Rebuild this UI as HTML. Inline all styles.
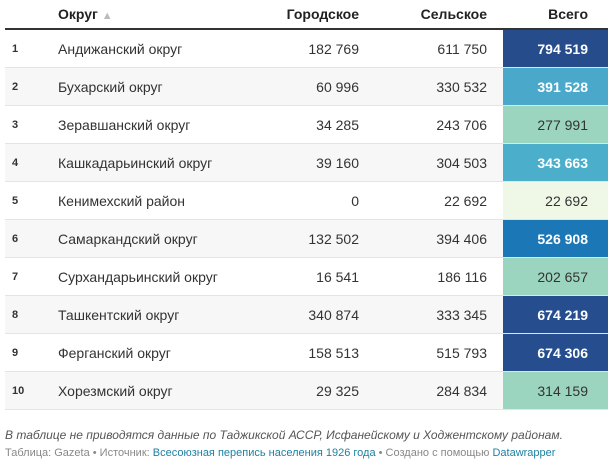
<!DOCTYPE html>
<html><head><meta charset="utf-8"><style>
body{margin:0;background:#fff;font-family:"Liberation Sans",Arial,sans-serif;color:#333;width:614px;height:464px;overflow:hidden}
table{position:absolute;left:5px;top:0;width:603px;border-collapse:collapse;font-size:14px;table-layout:fixed}
th{height:28px;font-weight:bold;text-align:right;padding:0;border-bottom:2px solid #333;color:#222;vertical-align:middle;white-space:nowrap}
td{height:37px;padding:0;border-bottom:1px solid #e4e4e4;text-align:right;white-space:nowrap;background:#fff}
tr.g td{background:#f7f7f7}
td.n,th.n{text-align:left;padding-left:7px;font-size:11px;font-weight:bold}
td.nm,th.nm{text-align:left}
td.c2,th.c2{padding-right:16px}
td.c3,th.c3{padding-right:20px}
td.w{color:#fff;font-weight:bold}
.foot{position:absolute;left:5px;font-size:12px}
</style></head><body>
<table>
<colgroup><col style="width:53px"><col style="width:157px"><col style="width:144px"><col style="width:144px"><col style="width:105px"></colgroup>
<tr><th class="n"></th><th class="nm">Округ <span style="color:#bbb;font-size:11px">▲</span></th><th class="c1">Городское</th><th class="c2">Сельское</th><th class="c3">Всего</th></tr>
<tr><td class="n">1</td><td class="nm">Андижанский округ</td><td class="c1">182 769</td><td class="c2">611 750</td><td class="c3 w" style="background:#264c8b">794 519</td></tr>
<tr class="g"><td class="n">2</td><td class="nm">Бухарский округ</td><td class="c1">60 996</td><td class="c2">330 532</td><td class="c3 w" style="background:#4aa9cb">391 528</td></tr>
<tr><td class="n">3</td><td class="nm">Зеравшанский округ</td><td class="c1">34 285</td><td class="c2">243 706</td><td class="c3" style="background:#9bd5c0">277 991</td></tr>
<tr class="g"><td class="n">4</td><td class="nm">Кашкадарьинский округ</td><td class="c1">39 160</td><td class="c2">304 503</td><td class="c3 w" style="background:#4bafcc">343 663</td></tr>
<tr><td class="n">5</td><td class="nm">Кенимехский район</td><td class="c1">0</td><td class="c2">22 692</td><td class="c3" style="background:#eff8e7">22 692</td></tr>
<tr class="g"><td class="n">6</td><td class="nm">Самаркандский округ</td><td class="c1">132 502</td><td class="c2">394 406</td><td class="c3 w" style="background:#1b77b5">526 908</td></tr>
<tr><td class="n">7</td><td class="nm">Сурхандарьинский округ</td><td class="c1">16 541</td><td class="c2">186 116</td><td class="c3" style="background:#9bd5c0">202 657</td></tr>
<tr class="g"><td class="n">8</td><td class="nm">Ташкентский округ</td><td class="c1">340 874</td><td class="c2">333 345</td><td class="c3 w" style="background:#264e8f">674 219</td></tr>
<tr><td class="n">9</td><td class="nm">Ферганский округ</td><td class="c1">158 513</td><td class="c2">515 793</td><td class="c3 w" style="background:#264e8f">674 306</td></tr>
<tr class="g"><td class="n">10</td><td class="nm">Хорезмский округ</td><td class="c1">29 325</td><td class="c2">284 834</td><td class="c3" style="background:#9bd5c0">314 159</td></tr>
</table>
<div class="foot" style="top:428px;font-style:italic;color:#555">В таблице не приводятся данные по Таджикской АССР, Исфанейскому и Ходжентскому районам.</div>
<div class="foot" style="top:447px;font-size:11px;color:#888">Таблица: Gazeta • Источник: <span style="color:#1d81a2">Всесоюзная перепись населения 1926 года</span> • Создано с помощью <span style="color:#1d81a2">Datawrapper</span></div>
</body></html>
